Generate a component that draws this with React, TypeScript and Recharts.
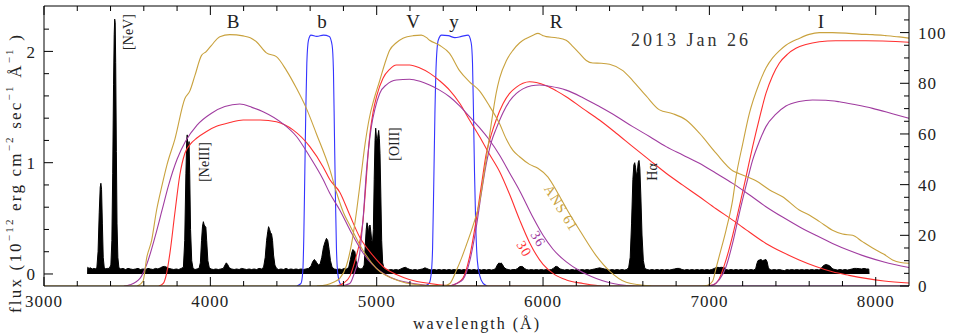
import React from "react";
import { ComposedChart, Area, Line, XAxis, YAxis } from "recharts";

// spectrum: [wavelength (Å), flux (1e-12 erg cm-2 s-1 Å-1)]
const spectrum: [number, number][] = [
  [3262, 0], [3263, 0.06], [3270, 0.05], [3280, 0.055], [3290, 0.045], [3300, 0.05], [3310, 0.045], [3318, 0.06],
  [3325, 0.2], [3332, 0.55], [3338, 0.78], [3342, 0.815], [3346, 0.76], [3351, 0.45], [3356, 0.15], [3362, 0.06],
  [3370, 0.045], [3380, 0.05], [3392, 0.05], [3402, 0.08], [3408, 0.3], [3413, 0.9], [3418, 1.7], [3422, 2.15],
  [3425, 2.29], [3428, 2.26], [3431, 1.9], [3435, 1.1], [3439, 0.45], [3444, 0.15], [3450, 0.06],
  [3460, 0.045], [3475, 0.05], [3490, 0.04], [3505, 0.05], [3520, 0.045], [3535, 0.04], [3550, 0.045], [3565, 0.05],
  [3580, 0.04], [3595, 0.045], [3610, 0.04], [3625, 0.05], [3640, 0.045], [3655, 0.04], [3670, 0.05], [3685, 0.045],
  [3700, 0.055], [3712, 0.065], [3725, 0.068], [3738, 0.06], [3750, 0.05], [3765, 0.045], [3780, 0.04], [3795, 0.045],
  [3810, 0.04], [3825, 0.05],
  [3838, 0.06], [3846, 0.3], [3853, 0.9], [3858, 1.2], [3861, 1.25], [3865, 1.12], [3869, 1.15], [3872, 1.19],
  [3876, 0.9], [3881, 0.4], [3888, 0.12], [3896, 0.05],
  [3908, 0.04], [3920, 0.045], [3932, 0.05], [3940, 0.1], [3947, 0.3], [3953, 0.43], [3958, 0.47], [3963, 0.44],
  [3968, 0.43], [3973, 0.42], [3978, 0.3], [3985, 0.12], [3993, 0.06], [4003, 0.045],
  [4018, 0.04], [4033, 0.045], [4048, 0.04], [4063, 0.045], [4078, 0.05], [4088, 0.08], [4096, 0.1], [4104, 0.085],
  [4114, 0.055], [4128, 0.045], [4143, 0.04], [4158, 0.045], [4173, 0.04], [4188, 0.05], [4203, 0.045], [4218, 0.04],
  [4233, 0.045], [4248, 0.04], [4263, 0.045], [4278, 0.04], [4293, 0.05], [4308, 0.045], [4320, 0.06],
  [4330, 0.15], [4338, 0.3], [4345, 0.38], [4350, 0.425], [4356, 0.4], [4362, 0.37], [4368, 0.36], [4374, 0.3],
  [4380, 0.17], [4388, 0.08], [4398, 0.05],
  [4410, 0.04], [4425, 0.045], [4440, 0.04], [4455, 0.05], [4470, 0.04], [4485, 0.045], [4500, 0.04], [4515, 0.045],
  [4530, 0.04], [4545, 0.045], [4560, 0.04], [4575, 0.045], [4590, 0.05],
  [4605, 0.07], [4615, 0.11], [4625, 0.13], [4632, 0.12], [4640, 0.1], [4650, 0.08], [4660, 0.09], [4670, 0.15],
  [4680, 0.24], [4690, 0.29], [4698, 0.32], [4706, 0.3], [4714, 0.22], [4722, 0.12], [4732, 0.06], [4745, 0.045],
  [4760, 0.04], [4775, 0.045], [4790, 0.04], [4805, 0.05], [4820, 0.045], [4832, 0.06],
  [4842, 0.13], [4850, 0.19], [4857, 0.22], [4863, 0.21], [4869, 0.2], [4876, 0.12], [4885, 0.06], [4895, 0.05],
  [4905, 0.045], [4915, 0.05], [4925, 0.08],
  [4931, 0.25], [4937, 0.4], [4942, 0.46], [4947, 0.42], [4951, 0.36], [4955, 0.43], [4960, 0.44], [4965, 0.38],
  [4970, 0.3], [4975, 0.28], [4980, 0.4], [4985, 0.85], [4990, 1.2], [4994, 1.31], [4999, 1.22], [5003, 1.18],
  [5008, 1.25], [5012, 1.29], [5016, 1.22], [5020, 1.08], [5025, 0.7], [5030, 0.3], [5036, 0.1], [5044, 0.05],
  [5055, 0.04], [5070, 0.035], [5085, 0.04], [5100, 0.035], [5115, 0.04], [5130, 0.035], [5145, 0.045], [5160, 0.055],
  [5172, 0.06], [5185, 0.05], [5200, 0.04], [5215, 0.035], [5230, 0.04], [5245, 0.035], [5260, 0.04], [5275, 0.045],
  [5290, 0.055], [5300, 0.05], [5315, 0.04], [5330, 0.035], [5345, 0.04], [5360, 0.035], [5375, 0.04], [5390, 0.035],
  [5405, 0.04], [5420, 0.035], [5435, 0.04], [5450, 0.035], [5465, 0.04], [5480, 0.035], [5495, 0.04], [5510, 0.035],
  [5525, 0.04], [5540, 0.035], [5555, 0.04], [5570, 0.035], [5585, 0.04], [5600, 0.035], [5615, 0.04], [5630, 0.035],
  [5645, 0.04], [5660, 0.035], [5675, 0.04], [5690, 0.035], [5705, 0.04],
  [5715, 0.05], [5725, 0.08], [5735, 0.1], [5742, 0.09], [5748, 0.1], [5756, 0.085], [5765, 0.06], [5778, 0.045],
  [5790, 0.04], [5805, 0.035], [5820, 0.04], [5835, 0.04], [5848, 0.05], [5858, 0.065], [5868, 0.068], [5878, 0.066],
  [5888, 0.05], [5900, 0.04], [5915, 0.035], [5930, 0.04], [5945, 0.035], [5960, 0.04], [5975, 0.035], [5990, 0.04],
  [6005, 0.035], [6020, 0.04], [6035, 0.035], [6050, 0.04], [6062, 0.05], [6072, 0.065], [6082, 0.068], [6092, 0.06],
  [6102, 0.045], [6115, 0.04], [6130, 0.035], [6145, 0.04], [6160, 0.035], [6175, 0.04], [6190, 0.035], [6205, 0.04],
  [6220, 0.035], [6235, 0.04], [6250, 0.035], [6265, 0.04], [6280, 0.035], [6295, 0.04], [6310, 0.045], [6325, 0.05],
  [6340, 0.055], [6355, 0.05], [6370, 0.045], [6385, 0.04], [6400, 0.035], [6415, 0.04], [6430, 0.035], [6445, 0.04],
  [6460, 0.035], [6475, 0.04], [6490, 0.035], [6505, 0.04],
  [6515, 0.06], [6524, 0.15], [6532, 0.45], [6540, 0.85], [6546, 0.98], [6551, 1.0], [6556, 0.96], [6562, 0.88],
  [6567, 0.92], [6572, 1.0], [6577, 1.02], [6582, 0.95], [6588, 0.7], [6595, 0.35], [6603, 0.12], [6612, 0.05],
  [6625, 0.04], [6640, 0.035], [6655, 0.04], [6670, 0.035], [6685, 0.04], [6700, 0.035], [6715, 0.04], [6730, 0.035],
  [6745, 0.04], [6760, 0.035], [6775, 0.04], [6790, 0.045], [6805, 0.05], [6820, 0.05], [6835, 0.04], [6850, 0.035],
  [6865, 0.04], [6880, 0.035], [6895, 0.04], [6910, 0.035], [6925, 0.04], [6940, 0.035], [6955, 0.04], [6970, 0.035],
  [6985, 0.04], [7000, 0.035], [7015, 0.04], [7030, 0.05], [7045, 0.06], [7060, 0.058], [7075, 0.06], [7090, 0.055],
  [7100, 0.04], [7115, 0.035], [7130, 0.04], [7145, 0.035], [7160, 0.04], [7175, 0.035], [7190, 0.04], [7205, 0.035],
  [7220, 0.04], [7235, 0.035], [7250, 0.04], [7265, 0.035], [7278, 0.045],
  [7285, 0.09], [7292, 0.12], [7300, 0.125], [7310, 0.13], [7320, 0.12], [7330, 0.125], [7340, 0.13], [7347, 0.11],
  [7354, 0.06], [7362, 0.04], [7375, 0.035], [7390, 0.04], [7405, 0.035], [7420, 0.04], [7435, 0.035], [7450, 0.03],
  [7465, 0.04], [7480, 0.035], [7495, 0.04], [7510, 0.035], [7525, 0.04], [7540, 0.035], [7555, 0.04], [7570, 0.035],
  [7585, 0.04], [7600, 0.035], [7615, 0.04], [7630, 0.035], [7645, 0.04], [7660, 0.035], [7672, 0.05],
  [7682, 0.07], [7692, 0.08], [7702, 0.085], [7712, 0.08], [7722, 0.075], [7732, 0.06], [7742, 0.045],
  [7755, 0.04], [7770, 0.035], [7785, 0.04], [7800, 0.035], [7815, 0.04], [7830, 0.035], [7845, 0.04], [7858, 0.045],
  [7870, 0.05], [7885, 0.05], [7900, 0.048], [7915, 0.045], [7930, 0.05], [7945, 0.045], [7958, 0.045], [7960, 0],
];

// filter transmission curves: [wavelength (Å), transmission (%)]
const stromB: [number, number][] = [
  [4520, 0], [4545, 1], [4556, 6], [4562, 20], [4568, 45], [4574, 70], [4580, 88], [4590, 97], [4605, 99],
  [4640, 98.5], [4680, 99], [4715, 98.5], [4732, 95], [4740, 85], [4746, 60], [4752, 35], [4758, 15], [4766, 5],
  [4780, 1], [4800, 0],
];
const stromY: [number, number][] = [
  [5290, 0], [5315, 1], [5328, 5], [5336, 15], [5343, 40], [5350, 68], [5358, 88], [5370, 97], [5390, 99],
  [5430, 98.8], [5470, 98], [5510, 98.5], [5550, 99], [5568, 96], [5576, 88], [5582, 68], [5588, 45], [5595, 25],
  [5605, 10], [5620, 4], [5640, 1], [5665, 0],
];

const goldB: [number, number][] = [
  [3560, 0], [3596, 2], [3617, 11], [3647, 18], [3677, 30], [3707, 39], [3740, 48], [3787, 58], [3847, 74],
  [3877, 77], [3907, 83], [3947, 91], [3975, 92.5], [4007, 95], [4057, 98.4], [4117, 99.2], [4197, 98.7],
  [4240, 98], [4277, 96.4], [4337, 92], [4397, 90.5], [4458, 85], [4518, 78], [4578, 70], [4638, 60], [4718, 46],
  [4758, 37], [4800, 29], [4838, 24], [4918, 14], [4998, 7], [5118, 2.4], [5250, 0.5], [5400, 0],
];
const purpleB: [number, number][] = [
  [3480, 0], [3517, 0.5], [3577, 3], [3620, 9], [3670, 20], [3710, 30], [3750, 40], [3800, 50], [3850, 57],
  [3920, 63.5], [4007, 68.2], [4087, 70.8], [4177, 71.8], [4250, 70.5], [4317, 68.8], [4437, 64], [4518, 59],
  [4598, 51], [4678, 42], [4718, 36.6], [4778, 30], [4840, 22], [4918, 13], [5038, 5], [5218, 1], [5400, 0],
  [8200, 0],
];
const redB: [number, number][] = [
  [3690, 0], [3717, 1], [3737, 5], [3757, 13], [3787, 29], [3817, 44], [3847, 52.4], [3880, 56], [3917, 58.3],
  [3977, 61], [4037, 63], [4117, 64.5], [4197, 65.5], [4300, 65.5], [4397, 64.8], [4497, 61.6], [4598, 55],
  [4678, 47], [4718, 42], [4778, 37], [4838, 28], [4900, 19], [4978, 12], [5050, 7], [5118, 4.5], [5200, 2.5],
  [5318, 1], [5450, 0],
];

const goldV: [number, number][] = [
  [4640, 0], [4700, 0.5], [4740, 1.5], [4778, 3], [4818, 8], [4850, 17], [4880, 30], [4905, 43], [4930, 56],
  [4955, 66], [4985, 74], [5018, 81], [5050, 88], [5078, 93], [5118, 96], [5158, 97.8], [5220, 98.8], [5268, 99],
  [5300, 98], [5318, 97], [5378, 95], [5438, 91.8], [5498, 85], [5558, 80.6], [5618, 77], [5678, 71], [5739, 64],
  [5779, 58], [5819, 53.5], [5859, 51], [5919, 48], [5969, 46.5], [6030, 43], [6090, 36.5], [6150, 29.5],
  [6225, 21.5], [6319, 12], [6399, 6], [6500, 1.5], [6650, 0],
];
const purpleV: [number, number][] = [
  [4780, 0], [4838, 1], [4870, 6], [4898, 13], [4920, 28], [4938, 45], [4968, 62.9], [4990, 70], [5018, 76],
  [5060, 79.5], [5118, 81.3], [5198, 81.6], [5260, 80.8], [5318, 79.3], [5378, 77.3], [5438, 74.7], [5500, 71],
  [5558, 66.8], [5618, 62.5], [5678, 57.6], [5740, 51.5], [5800, 44.5], [5860, 37.5], [5940, 27], [6000, 20],
  [6060, 14.5], [6140, 9.5], [6220, 6], [6320, 3], [6400, 1.3], [6550, 0],
];
const redV: [number, number][] = [
  [4760, 0], [4798, 1], [4840, 4], [4878, 12], [4900, 18], [4918, 26], [4935, 40], [4948, 52], [4963, 62],
  [4978, 68.5], [5000, 75], [5038, 82], [5078, 85.5], [5118, 87.2], [5198, 87.2], [5260, 86], [5318, 84],
  [5378, 81], [5438, 77.3], [5500, 72], [5558, 65.5], [5618, 59], [5678, 52], [5740, 45], [5800, 36], [5860, 26],
  [5920, 17], [6000, 8.5], [6070, 4.5], [6140, 2.4], [6240, 1], [6350, 0],
];

const goldR: [number, number][] = [
  [5400, 0], [5440, 1], [5478, 6], [5510, 11], [5538, 16], [5580, 24], [5618, 33], [5658, 50], [5698, 68],
  [5718, 76], [5739, 82], [5780, 89], [5819, 93], [5860, 96], [5899, 97.7], [5940, 99], [5969, 99.7], [6000, 98.8],
  [6019, 98.4], [6080, 98], [6139, 97], [6180, 94.5], [6219, 91.8], [6260, 89], [6299, 88], [6350, 87.9],
  [6400, 87.5], [6480, 85], [6540, 81], [6620, 75], [6700, 69.5], [6780, 68], [6860, 65.5], [6940, 60.3],
  [7040, 52.4], [7140, 45.5], [7180, 44.3], [7280, 41.5], [7360, 38], [7440, 35.2], [7540, 30], [7600, 28],
  [7660, 25.5], [7740, 22], [7800, 20.5], [7861, 20], [7920, 17.5], [7981, 15], [8050, 12.5], [8101, 10.3],
  [8150, 9.3], [8200, 9],
];
const purpleR: [number, number][] = [
  [5440, 0], [5480, 1], [5518, 2.5], [5560, 10], [5598, 23], [5630, 37], [5658, 48], [5690, 57], [5718, 62],
  [5760, 68.5], [5799, 73], [5840, 76], [5879, 77.8], [5930, 79], [5979, 79.3], [6040, 78.8], [6139, 77.3],
  [6240, 74.3], [6339, 70.8], [6440, 67], [6539, 62.9], [6640, 59], [6740, 55], [6840, 51.7], [6940, 48.4],
  [7040, 44.5], [7140, 40.5], [7240, 36], [7340, 31.3], [7440, 27.2], [7540, 23.4], [7640, 20], [7740, 16.8],
  [7841, 14], [7941, 11.6], [8050, 9.5], [8200, 7.3],
];
const redR: [number, number][] = [
  [5440, 0], [5480, 1], [5518, 3], [5560, 12], [5598, 26], [5630, 40], [5658, 52], [5690, 60], [5718, 65.5],
  [5760, 72], [5799, 76], [5840, 78.5], [5879, 80], [5919, 80.6], [5960, 80.3], [6020, 79], [6080, 77],
  [6139, 74.7], [6240, 70], [6339, 65.5], [6440, 60.3], [6539, 55], [6640, 49.7], [6740, 44.5], [6840, 39.8],
  [6940, 35.2], [7040, 30.5], [7140, 26], [7240, 21.3], [7340, 16.8], [7440, 13.3], [7540, 10.3], [7640, 7.7],
  [7740, 5.6], [7840, 4.2], [7941, 3], [8050, 2], [8200, 1.2],
];

const goldI: [number, number][] = [
  [3000, 0], [6950, 0], [6990, 0.3], [7020, 2], [7040, 7], [7060, 12], [7100, 22], [7140, 34], [7160, 43],
  [7200, 56], [7240, 68], [7300, 80], [7340, 86], [7380, 90], [7420, 92.8], [7460, 95], [7540, 97.7],
  [7600, 99.3], [7661, 100], [7740, 100], [7821, 99.8], [7900, 99.4], [7981, 99.2], [8060, 98.8], [8141, 98.3],
  [8200, 97.8],
];
const purpleI: [number, number][] = [
  [6980, 0], [7020, 0.4], [7060, 2.5], [7100, 7.6], [7140, 17], [7180, 28.7], [7220, 39.5], [7260, 49.7],
  [7300, 57], [7340, 62.9], [7400, 67.8], [7460, 71], [7540, 72.8], [7620, 73.4], [7700, 73.3], [7781, 72.7],
  [7880, 71.5], [7981, 70.1], [8100, 68], [8200, 66.2],
];
const redI: [number, number][] = [
  [6980, 0], [7020, 0.4], [7060, 3], [7100, 10.3], [7140, 20], [7180, 31.3], [7220, 43], [7260, 55], [7300, 66],
  [7340, 76], [7380, 83], [7420, 87.9], [7470, 91.5], [7520, 93.8], [7580, 95.3], [7661, 96.4], [7760, 96.8],
  [7841, 96.8], [7941, 96.8], [8041, 96.7], [8120, 96.5], [8200, 96.2],
];

const xTicks = Array.from({ length: 26 }, (_, i) => 3000 + i * 200);
const fluxTicks = Array.from({ length: 12 }, (_, i) => Math.round(i * 2) / 10);
const pctTicks = Array.from({ length: 22 }, (_, i) => i * 5);

const GOLD = "#c9a23e";
const PURPLE = "#a03ca0";
const RED = "#ff3030";
const BLUE = "#3434ff";
const FONT = "'Liberation Serif', 'DejaVu Serif', serif";
const INK = "#222";

const toPts = (arr: [number, number][]) => arr.map(([w, v]) => ({ w, v }));
const specData = spectrum.map(([w, f]) => ({ w, f }));

const curves = [
  { key: "stromB", data: stromB, color: BLUE },
  { key: "stromY", data: stromY, color: BLUE },
  { key: "redB", data: redB, color: RED },
  { key: "redV", data: redV, color: RED },
  { key: "redR", data: redR, color: RED },
  { key: "redI", data: redI, color: RED },
  { key: "purpleB", data: purpleB, color: PURPLE },
  { key: "purpleV", data: purpleV, color: PURPLE },
  { key: "purpleR", data: purpleR, color: PURPLE },
  { key: "purpleI", data: purpleI, color: PURPLE },
  { key: "goldB", data: goldB, color: GOLD },
  { key: "goldV", data: goldV, color: GOLD },
  { key: "goldR", data: goldR, color: GOLD },
  { key: "goldI", data: goldI, color: GOLD },
];

const isWhole = (v: number) => Math.abs(v - Math.round(v)) < 1e-6;

// ticks point inward; labels sit outside the frame
function BottomTick(props: any) {
  const { x, y, payload } = props;
  const major = payload.value % 1000 === 0;
  return (
    <g>
      <line x1={x} x2={x} y1={y} y2={y - (major ? 9 : 5)} stroke="#000" />
      {major && (
        <text x={x} y={y + 21} textAnchor="middle" fontFamily={FONT} fontSize={17} letterSpacing={1} fill={INK}>
          {payload.value}
        </text>
      )}
    </g>
  );
}

function TopTick(props: any) {
  const { x, y, payload } = props;
  const major = payload.value % 1000 === 0;
  return <line x1={x} x2={x} y1={y} y2={y + (major ? 9 : 5)} stroke="#000" />;
}

function LeftTick(props: any) {
  const { x, y, payload } = props;
  const major = isWhole(payload.value);
  return (
    <g>
      <line x1={x} x2={x + (major ? 9 : 5)} y1={y} y2={y} stroke="#000" />
      {major && (
        <text x={x - 9} y={y} dy="0.36em" textAnchor="end" fontFamily={FONT} fontSize={17} fill={INK}>
          {Math.round(payload.value)}
        </text>
      )}
    </g>
  );
}

function RightTick(props: any) {
  const { x, y, payload } = props;
  const major = payload.value % 20 === 0;
  return (
    <g>
      <line x1={x} x2={x - (major ? 9 : 5)} y1={y} y2={y} stroke="#000" />
      {major && (
        <text x={x + 9} y={y} dy="0.36em" textAnchor="start" fontFamily={FONT} fontSize={17} letterSpacing={1} fill={INK}>
          {payload.value}
        </text>
      )}
    </g>
  );
}

const sup = (s: string) => (
  <>
    <tspan dy={-6} fontSize={11}>{s}</tspan>
    <tspan dy={6}> </tspan>
  </>
);

function Annotations() {
  const band = { fontFamily: FONT, fontSize: 19, fill: INK, textAnchor: "middle" as const };
  const vlab = (x: number, y: number, t: string) => (
    <text
      transform={`translate(${x},${y}) rotate(-90)`}
      textAnchor="middle"
      dominantBaseline="central"
      fontFamily={FONT}
      fontSize={14}
      fill={INK}
    >
      {t}
    </text>
  );
  const slab = (x: number, y: number, t: string, c: string) => (
    <text
      transform={`translate(${x},${y}) rotate(58)`}
      textAnchor="middle"
      dominantBaseline="central"
      fontFamily={FONT}
      fontSize={14}
      letterSpacing={1}
      fill={c}
    >
      {t}
    </text>
  );
  return (
    <svg width={954} height={336} style={{ position: "absolute", left: 0, top: 0, pointerEvents: "none" }}>
      <text x={233} y={28} {...band}>B</text>
      <text x={322} y={28} {...band}>b</text>
      <text x={413} y={28} {...band}>V</text>
      <text x={454} y={28} {...band}>y</text>
      <text x={556} y={28} {...band}>R</text>
      <text x={821} y={28} {...band}>I</text>
      <text x={691} y={46} textAnchor="middle" fontFamily={FONT} fontSize={18} letterSpacing={3} fill="#333">
        2013 Jan 26
      </text>
      {vlab(128, 32, "[NeV]")}
      {vlab(204, 162, "[NeIII]")}
      {vlab(394, 144, "[OIII]")}
      {vlab(652, 172, "Hα")}
      {slab(561, 208, "ANS 61", GOLD)}
      {slab(538, 239, "36", PURPLE)}
      {slab(524, 249, "30", RED)}
      <text
        transform="translate(15,173) rotate(-90)"
        textAnchor="middle"
        dominantBaseline="central"
        fontFamily={FONT}
        fontSize={17}
        letterSpacing={2.2}
        fill={INK}
      >
        flux (10{sup("−12")}erg cm{sup("−2")}sec{sup("−1")}Å{sup("−1")})
      </text>
      <text x={477} y={329} textAnchor="middle" fontFamily={FONT} fontSize={16} letterSpacing={2} fill={INK}>
        wavelength (Å)
      </text>
    </svg>
  );
}

export default function App() {
  return (
    <div style={{ position: "absolute", left: 0, top: 0, width: 954, height: 336, background: "#fff" }}>
      <ComposedChart width={954} height={336} data={specData} margin={{ top: 0, right: 0, bottom: 0, left: 0 }}>
        <XAxis
          dataKey="w"
          type="number"
          domain={[3000, 8200]}
          allowDataOverflow
          ticks={xTicks}
          interval={0}
          height={50}
          tickSize={0}
          tickMargin={0}
          tickLine={false}
          axisLine={{ stroke: "#000" }}
          tick={<BottomTick />}
        />
        <XAxis
          xAxisId="top"
          orientation="top"
          dataKey="w"
          type="number"
          domain={[3000, 8200]}
          allowDataOverflow
          ticks={xTicks}
          interval={0}
          height={6}
          tickSize={0}
          tickMargin={0}
          tickLine={false}
          axisLine={{ stroke: "#000" }}
          tick={<TopTick />}
        />
        <YAxis
          yAxisId="left"
          type="number"
          domain={[-0.108, 2.408]}
          allowDataOverflow
          ticks={fluxTicks}
          interval={0}
          width={44}
          tickSize={0}
          tickMargin={0}
          tickLine={false}
          axisLine={{ stroke: "#000" }}
          tick={<LeftTick />}
        />
        <YAxis
          yAxisId="right"
          orientation="right"
          type="number"
          domain={[0, 110.5]}
          allowDataOverflow
          ticks={pctTicks}
          interval={0}
          width={45}
          tickSize={0}
          tickMargin={0}
          tickLine={false}
          axisLine={{ stroke: "#000" }}
          tick={<RightTick />}
        />
        <Area
          yAxisId="left"
          dataKey="f"
          type="linear"
          baseValue={0}
          stroke="#000"
          strokeWidth={1}
          fill="#000"
          fillOpacity={1}
          dot={false}
          activeDot={false}
          isAnimationActive={false}
        />
        {curves.map((c) => (
          <Line
            key={c.key}
            yAxisId="right"
            data={toPts(c.data)}
            dataKey="v"
            type="monotone"
            stroke={c.color}
            strokeWidth={1.1}
            dot={false}
            activeDot={false}
            isAnimationActive={false}
          />
        ))}
      </ComposedChart>
      <Annotations />
    </div>
  );
}
